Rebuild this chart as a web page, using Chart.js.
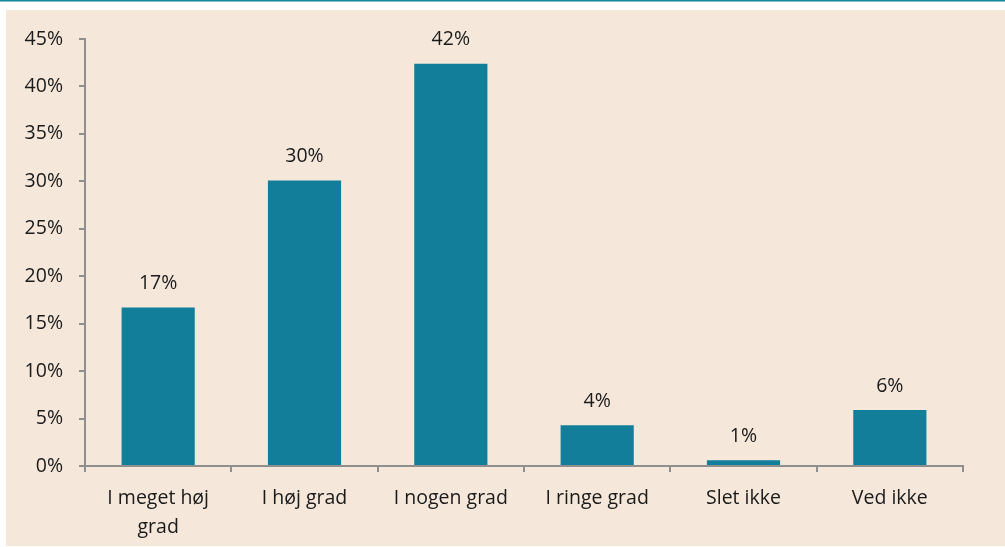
<!DOCTYPE html>
<html>
<head>
<meta charset="utf-8">
<script src="https://cdn.jsdelivr.net/npm/chart.js@4.4.0/dist/chart.umd.min.js"></script>
<style>
  html, body { margin: 0; padding: 0; background: #ffffff; }
  #wrap { width: 1005px; height: 547px; position: relative; }
</style>
</head>
<body>
<div id="wrap"><canvas id="grafico"></canvas></div>
<script>
// Kategorier (flere linjer hvor teksten brydes)
const kategorier = [
  ['I meget høj', 'grad'],
  'I høj grad',
  'I nogen grad',
  'I ringe grad',
  'Slet ikke',
  'Ved ikke'
];
// Andel af svar i procent
const andele = [16.7, 30.1, 42.4, 4.3, 0.6, 5.9];
const yMax = 45;
const yStep = 5;

const farveSoejle = '#127e99';
const farveBaggrund = '#f5e8db';
const farveAkse = '#8f8f8f';
const skrift = "'Open Sans', 'Noto Sans', sans-serif";

// Baggrund: hvid top med tynd linje, derefter beige flade
const baggrundPlugin = {
  id: 'baggrund',
  beforeDraw(chart) {
    const c = chart.ctx;
    c.save();
    c.fillStyle = '#ffffff';
    c.fillRect(0, 0, chart.width, chart.height);
    c.fillStyle = '#14879c';
    c.fillRect(0, 0, chart.width, 1.5);
    c.fillStyle = farveBaggrund;
    c.fillRect(6, 10, chart.width - 6, chart.height - 11);
    c.restore();
  }
};

// Værdier over søjlerne
const etiketPlugin = {
  id: 'etiketter',
  afterDatasetsDraw(chart) {
    const c = chart.ctx;
    const meta = chart.getDatasetMeta(0);
    c.save();
    c.font = '19.5px ' + skrift;
    c.fillStyle = '#1a1a1a';
    c.textAlign = 'center';
    c.textBaseline = 'bottom';
    meta.data.forEach((bar, i) => {
      c.fillText(Math.round(andele[i]) + '%', bar.x, bar.y - 14);
    });
    c.restore();
  }
};

const ctx = document.getElementById('grafico').getContext('2d');
new Chart(ctx, {
  type: 'bar',
  data: {
    labels: kategorier,
    datasets: [{
      data: andele,
      backgroundColor: farveSoejle,
      categoryPercentage: 1,
      barPercentage: 0.5
    }]
  },
  options: {
    responsive: true,
    maintainAspectRatio: false,
    animation: false,
    layout: {
      padding: { top: 39, right: 42, bottom: 0, left: 0 }
    },
    plugins: {
      legend: { display: false },
      tooltip: { enabled: false }
    },
    scales: {
      x: {
        grid: {
          drawOnChartArea: false,
          offset: true,
          color: farveAkse,
          lineWidth: 2,
          tickLength: 6
        },
        border: { color: farveAkse, width: 2 },
        ticks: {
          color: '#1a1a1a',
          font: { family: skrift, size: 19.5, lineHeight: 1.48 },
          maxRotation: 0,
          autoSkip: false,
          padding: 12
        },
        afterFit(axis) { axis.height = 81; }
      },
      y: {
        min: 0,
        max: yMax,
        grid: {
          drawOnChartArea: false,
          color: farveAkse,
          lineWidth: 2,
          tickLength: 6
        },
        border: { color: farveAkse, width: 2 },
        ticks: {
          stepSize: yStep,
          color: '#1a1a1a',
          font: { family: skrift, size: 19.5 },
          padding: 16,
          callback: v => v + '%'
        },
        afterFit(axis) { axis.width = 85; }
      }
    }
  },
  plugins: [baggrundPlugin, etiketPlugin]
});
</script>
</body>
</html>
